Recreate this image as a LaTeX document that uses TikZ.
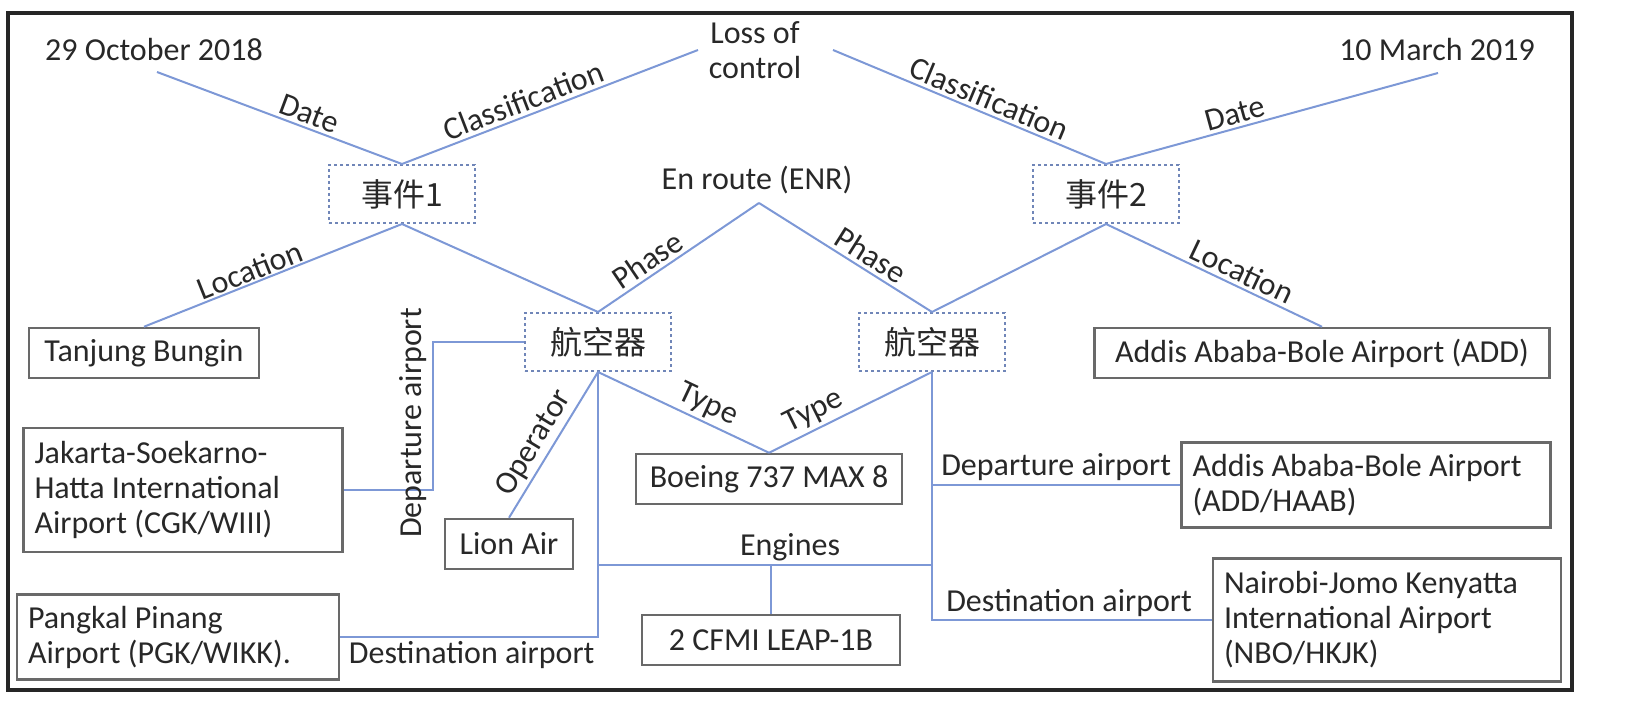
\documentclass[tikz,border=0pt]{standalone}
\usepackage{fontspec}
\setmainfont{Carlito}
\newfontfamily\cjk{Noto Sans CJK SC}
\definecolor{linkblue}{RGB}{125,152,214}
\definecolor{dashblue}{RGB}{112,134,184}
\definecolor{boxgray}{RGB}{105,105,105}
\definecolor{txtgray}{RGB}{40,40,40}
\tikzset{
	every node/.style={font=\fontsize{32}{35}\selectfont, text=txtgray},
	link/.style={draw=linkblue, line width=2pt},
	entity/.style={draw=dashblue, line width=2pt, dash pattern=on 3pt off 3pt,
		minimum width=146pt, minimum height=58pt},
	valbox/.style={draw=boxgray, line width=2.5pt, minimum height=50pt, inner sep=4pt},
	multibox/.style={valbox, align=flush left, inner xsep=11pt}
}

\begin{document}
\begin{tikzpicture}[x=1pt, y=-1pt]
	\useasboundingbox (0,0) rectangle (1630,727);
	\draw[line width=4pt, black!85] (8,13) rectangle (1572,690);

	% top: dates and classification
	\node (date1) at (154,50) {29 October 2018};
	\node (date2) at (1437,50) {10 March 2019};
	\node[align=flush center] (loss) at (755,50) {Loss of\\control};
	\node (enr) at (757,180) {En route (ENR)};
	\coordinate (d1) at (157,72);
	\coordinate (d2) at (1438,73);
	\coordinate (cl1) at (698,50);
	\coordinate (cl2) at (833,50);
	\coordinate (enrtip) at (759,203);
	\coordinate (eng) at (0,565);

	% events and aircraft
	\node[entity] (ev1) at (402,194) {\cjk 事件1};
	\node[entity] (ev2) at (1106,194) {\cjk 事件2};
	\node[entity] (ac1) at (598,342) {\cjk 航空器};
	\node[entity] (ac2) at (932,342) {\cjk 航空器};

	% values
	\node[valbox, minimum width=230pt] (tanjung) at (144,353) {Tanjung Bungin};
	\node[valbox, minimum width=455pt] (addisA) at (1322,353) {Addis Ababa-Bole Airport (ADD)};
	\node[multibox, text width=297pt, minimum height=124pt] (jakarta) at (183,490)
		{Jakarta-Soekarno-\\Hatta International\\Airport (CGK/WIII)};
	\node[valbox, minimum width=128pt] (lion) at (509,544) {Lion Air};
	\node[valbox, minimum width=266pt] (boeing) at (769,479) {Boeing 737 MAX 8};
	\node[multibox, text width=347pt, minimum height=85pt] (addisB) at (1366,485)
		{Addis Ababa-Bole Airport\\(ADD/HAAB)};
	\node[valbox, minimum width=258pt] (cfmi) at (771,640) {2 CFMI LEAP-1B};
	\node[multibox, text width=300pt, minimum height=85pt] (pangkal) at (178,637)
		{Pangkal Pinang\\Airport (PGK/WIKK).};
	\node[multibox, text width=326pt, minimum height=123pt] (nairobi) at (1387,620)
		{Nairobi-Jomo Kenyatta\\International Airport\\(NBO/HKJK)};

	% relations
	\draw[link] (d1) -- node[above, sloped, pos=0.6] {Date} (ev1.north);
	\draw[link] (ev1.north) -- node[above, sloped, pos=0.43] {Classification} (cl1);
	\draw[link] (cl2) -- node[above, sloped, pos=0.55] {Classification} (ev2.north);
	\draw[link] (ev2.north) -- node[above, sloped, pos=0.4] {Date} (d2);
	\draw[link] (tanjung.north) -- node[above, sloped, pos=0.43, inner sep=1pt] {Location} (ev1.south);
	\draw[link] (ev2.south) -- node[above, sloped, pos=0.6] {Location} (addisA.north);
	\draw[link] (ev1.south) -- (ac1.north);
	\draw[link] (ev2.south) -- (ac2.north);
	\draw[link] (ac1.north) -- node[above, sloped, pos=0.36] {Phase} (enrtip);
	\draw[link] (enrtip) -- node[above, sloped, pos=0.6] {Phase} (ac2.north);

	\draw[link] (ac1.west) -- ++(-91,0) |- (jakarta.east);
	\node[rotate=90] (deplab) at (413,423) {Departure airport};
	\draw[link] (lion.north) -- node[above, sloped, pos=0.45] {Operator} (ac1.south);
	\draw[link] (ac1.south) -- node[above, sloped, pos=0.6] {Type} (boeing.north);
	\draw[link] (boeing.north) -- node[above, sloped, pos=0.32] {Type} (ac2.south);
	\draw[link] (ac1.south) |- node[below, pos=0.745] {Destination airport} (pangkal.east);
	\draw[link] (ac1.south |- eng) -- node[above, pos=0.575] {Engines} (ac2.south |- eng);
	\draw[link] (cfmi.north) -- (cfmi.north |- eng);
	\draw[link] (ac2.south) |- node[above, pos=0.745, inner sep=2pt] {Destination airport} (nairobi.west);
	\draw[link] (ac2.south |- addisB.west) -- node[above] {Departure airport} (addisB.west);
\end{tikzpicture}
\end{document}
